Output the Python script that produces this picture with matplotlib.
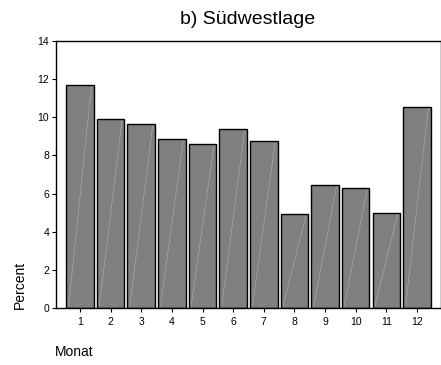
import matplotlib
matplotlib.use("Agg")
import matplotlib.pyplot as plt

plt.rcParams['font.family'] = ['Liberation Sans', 'DejaVu Sans']

months = [1, 2, 3, 4, 5, 6, 7, 8, 9, 10, 11, 12]
percent = [11.7, 9.9, 9.64, 8.85, 8.6, 9.37, 8.76, 4.9, 6.43, 6.29, 4.99, 10.56]
yticks = [0, 2, 4, 6, 8, 10, 12, 14]

W, H = 441, 365
fig = plt.figure(figsize=(W / 100, H / 100), dpi=100)
ax = fig.add_axes([55.5 / W, 1 - 307.7 / H, (440.5 - 55.5) / W, (307.7 - 41.3) / H])

bar_w = 0.9
ax.bar(months, percent, width=bar_w, color='#808080', edgecolor='black', linewidth=1.0)

# faint diagonal highlight streak inside each bar
for m, v in zip(months, percent):
    ax.plot([m - bar_w / 2 + 0.08, m + bar_w / 2 - 0.08], [0.1, v - 0.1],
            color='#b0b0b0', linewidth=0.5, alpha=0.8, zorder=3)

ax.set_xlim(0.2, 12.77)
ax.set_ylim(0, 14)
ax.set_xticks(months)
ax.set_xticklabels([str(m) for m in months])
ax.set_yticks(yticks)
ax.set_yticklabels([str(t) for t in yticks])
ax.tick_params(axis='both', labelsize=7.5, length=3, width=0.8, direction='out')
ax.tick_params(axis='y', pad=1.5)
ax.tick_params(axis='x', pad=4)
for s in ax.spines.values():
    s.set_linewidth(1.0)

fig.text(248 / W, 1 - 20 / H, 'b) Südwestlage', ha='center', va='center', fontsize=14)
fig.text(20 / W, 1 - 285 / H, 'Percent', rotation=90, ha='center', va='center', fontsize=10)
fig.text(55 / W, 1 - 352 / H, 'Monat', ha='left', va='center', fontsize=10)

fig.savefig('out.png', dpi=100)
